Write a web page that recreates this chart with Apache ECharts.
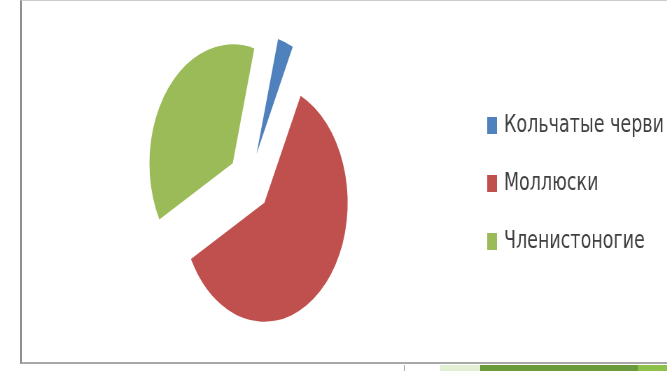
<!DOCTYPE html>
<html>
<head>
<meta charset="utf-8">
<script src="https://cdn.jsdelivr.net/npm/echarts@6/dist/echarts.min.js"></script>
<style>
    body{
        margin: 0;
        background: #fff;
        overflow: hidden;
        width: 667px;
        height: 371px;
        position: relative;
    }
    .frame{
        position: absolute;
        left: 20px;
        top: 0;
        width: 700px;
        height: 361px;
        border-left: 2px solid #909090;
        border-top: 1px solid #cccccc;
        border-bottom: 2px solid #a8a8a8;
    }
    .tick{
        position: absolute;
        left: 404px;
        top: 365px;
        width: 1px;
        height: 6px;
        background: #b0b0b0;
    }
    .strip{
        position: absolute;
        top: 365px;
        height: 6px;
    }
    /* the source picture is squeezed horizontally, so the chart is too */
    #pieChart{
        position: absolute;
        left: 0;
        top: 0;
        width: 953px;
        height: 371px;
        transform: scaleX(0.7);
        transform-origin: 0 0;
    }
</style>
</head>
<body>
<div class="frame"></div>
<div class="tick"></div>
<div class="strip" style="left:440px;width:40px;background:#e3efd3"></div>
<div class="strip" style="left:480px;width:158px;background:#6b9a3c"></div>
<div class="strip" style="left:638px;width:29px;background:#8cc04a"></div>
<div id="pieChart"></div>
<script>
    const categories = ['Кольчатые черви', 'Моллюски', 'Членистоногие'];
    const values = [3, 60, 37];
    const colors = ['#4f81bd', '#c0504d', '#9bbb59'];

    let myChart = echarts.init(document.getElementById('pieChart'));
    myChart.setOption({
        animation: false,
        legend: {
            orient: 'vertical',
            left: 696,
            top: 113,
            padding: 0,
            itemWidth: 14,
            itemHeight: 17,
            itemGap: 33,
            icon: 'rect',
            selectedMode: false,
            data: categories,
            textStyle: {
                fontFamily: 'DejaVu Sans',
                fontSize: 25,
                lineHeight: 17,
                color: '#404040',
                padding: [0, 0, 0, 5]
            }
        },
        series: [
            {
                type: 'pie',
                center: [356, 182],
                radius: 119,
                startAngle: 75,
                clockwise: true,
                selectedMode: 'multiple',
                selectedOffset: 30,
                label: {show: false},
                labelLine: {show: false},
                emphasis: {scale: false},
                itemStyle: {borderWidth: 0},
                data: categories.map((name, i) => ({
                    name: name,
                    value: values[i],
                    selected: true,
                    itemStyle: {color: colors[i]}
                }))
            }
        ]
    });
</script>
</body>
</html>
